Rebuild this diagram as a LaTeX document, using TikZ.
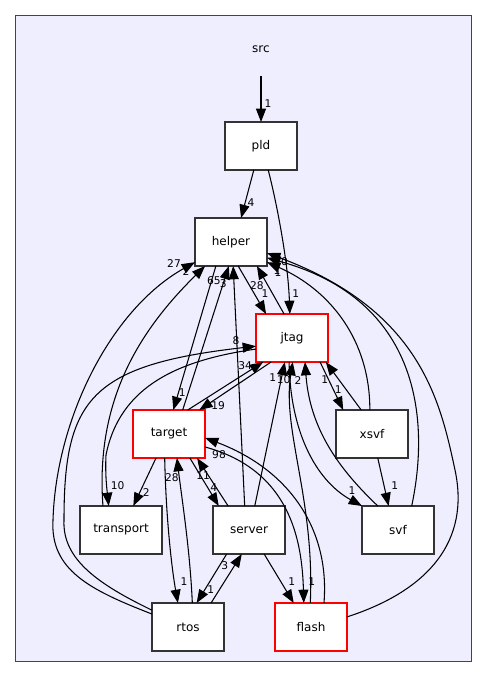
\documentclass[tikz,border=0pt]{standalone}
\usepackage{fontspec}
\setmainfont{DejaVu Sans}
\usetikzlibrary{arrows.meta, calc}

\definecolor{clusterbg}{HTML}{EEEEFF}
\definecolor{clusterframe}{HTML}{444444}

\begin{document}
\begin{tikzpicture}[
  x=0.75pt, y=-0.75pt,
  dirbox/.style={
    % The shape:
    rectangle,
    % The size:
    minimum width=54pt,
    minimum height=36pt,
    % The border:
    line width=1pt,
    draw=black!80,
    % The filling:
    fill=white,
    % Font
    font=\fontsize{9}{9}\selectfont,
    % padding around node
    inner sep=0pt,
    outer sep=0pt
  },
  reddir/.style={dirbox, draw=red},
  dep/.style={-{Triangle[length=10pt, width=7.5pt]}, line width=0.8pt},
  lbl/.style={font=\fontsize{8}{8}\selectfont, inner sep=0pt},
  ]

  % cluster of src
  \useasboundingbox (0,0) rectangle (488,677);
  \draw [fill=clusterbg, draw=clusterframe, line width=1pt] (15.5,15.5) rectangle (471.5,661.5);
  \node (src) [font=\fontsize{9}{9}\selectfont] at (261,49) {src};
  \coordinate (srcdep) at (261,76);

  % directories
  \node (pld) [dirbox] at (261,146) {pld};
  \node (helper) [dirbox] at (231,242) {helper};
  \node (jtag) [reddir] at (292,338) {jtag};
  \node (target) [reddir] at (169,434) {target};
  \node (xsvf) [dirbox] at (372,434) {xsvf};
  \node (transport) [dirbox, minimum width=61.5pt] at (121,530) {transport};
  \node (server) [dirbox] at (249,530) {server};
  \node (svf) [dirbox] at (398,530) {svf};
  \node (rtos) [dirbox] at (188,627) {rtos};
  \node (flash) [reddir] at (311,627) {flash};

  % from src and pld
  \draw [dep] (srcdep) -- (pld.north) node [lbl, at end, shift={(7,-18)}] {1};
  \draw [dep] ($(pld.south west)!0.40!(pld.south east)$) -- ($(helper.north west)!0.64!(helper.north east)$)
    node [lbl, at end, shift={(10,-15)}] {4};
  \draw [dep] ($(pld.south west)!0.60!(pld.south east)$) .. controls (276,200) and (288,260) .. ($(jtag.north west)!0.47!(jtag.north east)$)
    node [lbl, at end, shift={(6,-20)}] {1};

  % helper and jtag
  \draw [dep] ($(helper.south west)!0.60!(helper.south east)$) -- ($(jtag.north west)!0.14!(jtag.north east)$)
    node [lbl, at end, shift={(-1,-20)}] {1};
  \draw [dep] ($(jtag.north west)!0.39!(jtag.north east)$) -- ($(helper.south west)!0.86!(helper.south east)$)
    node [lbl, at end, shift={(0,20)}] {28};

  % helper and target
  \draw [dep] ($(helper.south west)!0.29!(helper.south east)$) -- ($(target.north west)!0.56!(target.north east)$)
    node [lbl, at end, shift={(9,-17)}] {1};
  \draw [dep] ($(target.north west)!0.69!(target.north east)$) -- ($(helper.south west)!0.47!(helper.south east)$)
    node [lbl, at end, shift={(-15,15)}] {65};
  \draw [dep] ($(server.north west)!0.44!(server.north east)$) -- ($(helper.south west)!0.53!(helper.south east)$)
    node [lbl, at end, shift={(-10,18)}] {3};

  % left side curves
  \draw [dep] ($(transport.north west)!0.28!(transport.north east)$) .. controls (95,400) and (140,330) .. ($(helper.south west)!0.14!(helper.south east)$)
    node [lbl, at end, shift={(-19,6)}] {2};
  \draw [dep] ($(rtos.north west)!0.23!(rtos.south west)$) .. controls (90,590) and (50,570) .. (53,520)
    .. controls (56,420) and (110,310) .. ($(helper.north west)!0.92!(helper.south west)$)
    node [lbl, at end, shift={(-21,1)}] {27};
  \draw [dep] ($(rtos.north west)!0.15!(rtos.south west)$) .. controls (100,585) and (62,560) .. (64,520)
    .. controls (64,400) and (90,365) .. ($(jtag.north west)!0.67!(jtag.south west)$)
    node [lbl, at end, shift={(-20,-6)}] {8};
  \draw [dep] ($(jtag.north west)!0.73!(jtag.south west)$) .. controls (180,360) and (120,385) .. (106,455)
    .. controls (105,475) and (107,490) .. ($(transport.north west)!0.35!(transport.north east)$)
    node [lbl, at end, shift={(9,-20)}] {10};

  % target and jtag
  \draw [dep] ($(target.north west)!0.76!(target.north east)$) -- ($(jtag.south west)!0.10!(jtag.south east)$)
    node [lbl, at end, shift={(-18,4)}] {34};
  \draw [dep] ($(jtag.south west)!0.21!(jtag.south east)$) -- ($(target.north west)!0.92!(target.north east)$)
    node [lbl, at end, shift={(19,-4)}] {19};

  % below target
  \draw [dep] ($(target.south west)!0.32!(target.south east)$) -- ($(transport.north west)!0.65!(transport.north east)$)
    node [lbl, at end, shift={(13,-13)}] {2};
  \draw [dep] ($(target.south west)!0.79!(target.south east)$) -- ($(server.north west)!0.08!(server.north east)$)
    node [lbl, at end, shift={(-5,-18)}] {4};
  \draw [dep] ($(server.north west)!0.21!(server.north east)$) -- ($(target.south west)!0.89!(target.south east)$)
    node [lbl, at end, shift={(6,18)}] {11};
  \draw [dep] ($(target.south west)!0.44!(target.south east)$) .. controls (166,520) and (172,570) .. ($(rtos.north west)!0.36!(rtos.north east)$)
    node [lbl, at end, shift={(6,-21)}] {1};
  \draw [dep] ($(rtos.north west)!0.56!(rtos.north east)$) .. controls (190,550) and (182,500) .. ($(target.south west)!0.61!(target.south east)$)
    node [lbl, at end, shift={(-5,20)}] {28};

  % server, rtos and flash
  \draw [dep] ($(rtos.north west)!0.82!(rtos.north east)$) -- ($(server.south west)!0.40!(server.south east)$)
    node [lbl, at end, shift={(-17,12)}] {3};
  \draw [dep] ($(server.south west)!0.19!(server.south east)$) -- ($(rtos.north west)!0.62!(rtos.north east)$)
    node [lbl, at end, shift={(14,-13)}] {1};
  \draw [dep] ($(server.south west)!0.71!(server.south east)$) -- ($(flash.north west)!0.26!(flash.north east)$)
    node [lbl, at end, shift={(-2,-21)}] {1};
  \draw [dep] ($(target.north east)!0.77!(target.south east)$) .. controls (290,470) and (302,540) .. ($(flash.north west)!0.40!(flash.north east)$)
    node [lbl, at end, shift={(8,-21)}] {1};
  \draw [dep] ($(flash.north west)!0.68!(flash.north east)$) .. controls (330,530) and (290,470) .. ($(target.north east)!0.58!(target.south east)$)
    node [lbl, at end, shift={(14,17)}] {98};

  % into and out of jtag from below
  \draw [dep] ($(server.north west)!0.58!(server.north east)$) -- ($(jtag.south west)!0.40!(jtag.south east)$)
    node [lbl, at end, shift={(-12,16)}] {1};
  \draw [dep] ($(flash.north west)!0.49!(flash.north east)$) .. controls (315,500) and (282,430) .. ($(jtag.south west)!0.51!(jtag.south east)$)
    node [lbl, at end, shift={(-9,18)}] {10};
  \draw [dep] ($(jtag.south west)!0.46!(jtag.south east)$) .. controls (290,430) and (315,480) .. (svf.north west)
    node [lbl, at end, shift={(-10,-15)}] {1};
  \draw [dep] ($(svf.north west)!0.22!(svf.north east)$) .. controls (340,470) and (310,430) .. ($(jtag.south west)!0.68!(jtag.south east)$)
    node [lbl, at end, shift={(-7,19)}] {2};
  \draw [dep] ($(jtag.south west)!0.89!(jtag.south east)$) -- ($(xsvf.north west)!0.10!(xsvf.north east)$)
    node [lbl, at end, shift={(-5,-20)}] {1};
  \draw [dep] ($(xsvf.north west)!0.35!(xsvf.north east)$) -- ($(jtag.south west)!0.97!(jtag.south east)$)
    node [lbl, at end, shift={(-1,18)}] {1};
  \draw [dep] ($(xsvf.south west)!0.58!(xsvf.south east)$) -- ($(svf.north west)!0.37!(svf.north east)$)
    node [lbl, at end, shift={(6,-20)}] {1};

  % right side curves into helper
  \draw [dep] ($(xsvf.north west)!0.47!(xsvf.north east)$) .. controls (370,340) and (330,290) .. ($(helper.north east)!0.92!(helper.south east)$)
    node [lbl, at end, shift={(11,10)}] {1};
  \draw [dep] ($(svf.north west)!0.69!(svf.north east)$) .. controls (430,420) and (420,300) .. ($(helper.north east)!0.83!(helper.south east)$)
    node [lbl, at end, shift={(10,13)}] {1};
  \draw [dep] ($(flash.north east)!0.29!(flash.south east)$) .. controls (430,590) and (470,540) .. (455,470)
    .. controls (440,400) and (420,310) .. ($(helper.north east)!0.73!(helper.south east)$)
    node [lbl, at end, shift={(14,9)}] {10};

\end{tikzpicture}
\end{document}
